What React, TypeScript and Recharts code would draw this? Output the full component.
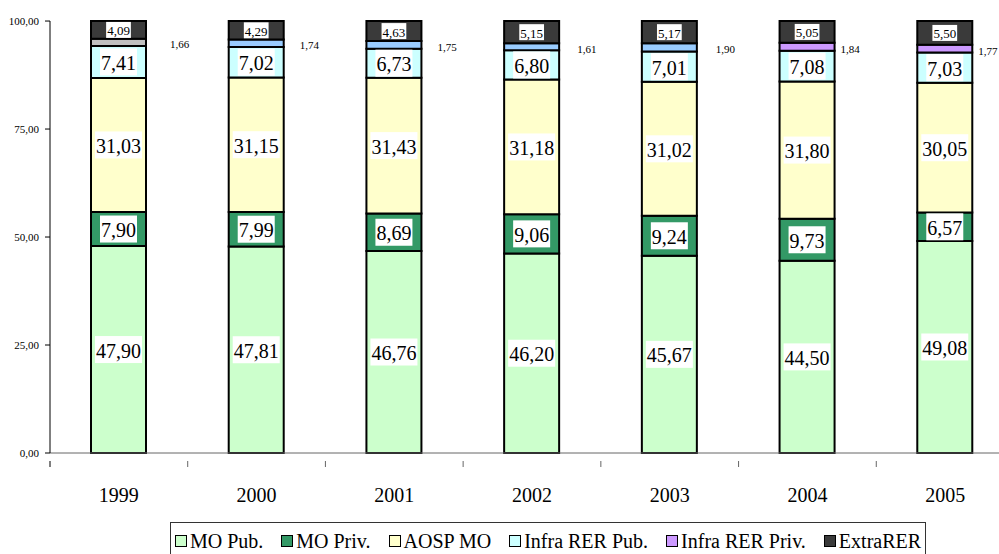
import { Bar, BarChart, Cell, LabelList, Legend, XAxis, YAxis } from "recharts";

const YEARS = ["1999", "2000", "2001", "2002", "2003", "2004", "2005"];
const MO_PUB = [47.9, 47.81, 46.76, 46.2, 45.67, 44.5, 49.08];
const MO_PRIV = [7.9, 7.99, 8.69, 9.06, 9.24, 9.73, 6.57];
const AOSP_MO = [31.03, 31.15, 31.43, 31.18, 31.02, 31.8, 30.05];
const INFRA_PUB = [7.41, 7.02, 6.73, 6.8, 7.01, 7.08, 7.03];
const INFRA_PRIV = [1.66, 1.74, 1.75, 1.61, 1.9, 1.84, 1.77];
const EXTRA_RER = [4.09, 4.29, 4.63, 5.15, 5.17, 5.05, 5.5];
const Y_TICKS = [0, 25, 50, 75, 100];

const SERIES = [
  { key: "moPub", name: "MO Pub.", color: "#CCFFCC" },
  { key: "moPriv", name: "MO Priv.", color: "#339966" },
  { key: "aosp", name: "AOSP MO", color: "#FFFFCC" },
  { key: "infraPub", name: "Infra RER Pub.", color: "#CCFFFF" },
  { key: "infraPriv", name: "Infra RER Priv.", color: "#CC99FF" },
  { key: "extra", name: "ExtraRER", color: "#3A3A3A" },
];
// the Infra RER Priv. slice changes colour from year to year in the source
const PRIV_COLORS = ["#C0C0C0", "#99CCFF", "#99CCFF", "#99CCFF", "#99CCFF", "#CC99FF", "#CC99FF"];
// hand-placed outside labels: gap from bar edge
const PRIV_DX = [24, 16, 16, 18, 19, 6, 6];

const FONT = "'Liberation Serif', 'Times New Roman', serif";
const PLOT_LEFT = 50;
const BAND = 137.7;

const data = YEARS.map((year, i) => ({
  year,
  moPub: MO_PUB[i],
  moPriv: MO_PRIV[i],
  aosp: AOSP_MO[i],
  infraPub: INFRA_PUB[i],
  infraPriv: INFRA_PRIV[i],
  extra: EXTRA_RER[i],
}));

const fmt = (v: number) => v.toFixed(2).replace(".", ",");

function boxLabel(size: number, boxH: number) {
  return (props: any) => {
    const vb = props.viewBox || {};
    const x = props.x ?? vb.x;
    const y = props.y ?? vb.y;
    const w = props.width ?? vb.width;
    const h = props.height ?? vb.height;
    const text = fmt(Number(props.value));
    const tw = (text.length - 1) * 0.5 * size + 0.25 * size + 2;
    const cx = x + w / 2;
    const cy = y + h / 2;
    return (
      <g>
        <rect x={cx - tw / 2} y={cy - boxH / 2} width={tw} height={boxH} fill="#fff" />
        <text
          x={cx}
          y={cy + 1}
          textAnchor="middle"
          dominantBaseline="central"
          fontFamily={FONT}
          fontSize={size}
          fill="#000"
        >
          {text}
        </text>
      </g>
    );
  };
}

function outsideLabel(props: any) {
  const vb = props.viewBox || {};
  const x = props.x ?? vb.x;
  const y = props.y ?? vb.y;
  const w = props.width ?? vb.width;
  const h = props.height ?? vb.height;
  const i = props.index ?? 0;
  return (
    <text
      x={x + w + PRIV_DX[i]}
      y={y + h / 2 + 2}
      dominantBaseline="central"
      fontFamily={FONT}
      fontSize={11}
      fill="#000"
    >
      {fmt(Number(props.value))}
    </text>
  );
}

function YearTick(props: any) {
  const { x, y, payload, index } = props;
  return (
    <g>
      {index === 0 && <line x1={x - BAND / 2} y1={y} x2={x - BAND / 2} y2={y + 6} stroke="#000" />}
      <line x1={x + BAND / 2} y1={y} x2={x + BAND / 2} y2={y + 6} stroke="#666" />
      <text
        x={x}
        y={y + 34}
        textAnchor="middle"
        dominantBaseline="central"
        fontFamily={FONT}
        fontSize={20}
        fill="#000"
      >
        {payload.value}
      </text>
    </g>
  );
}

function LegendBox() {
  return (
    <div
      style={{
        boxSizing: "border-box",
        width: 756,
        height: 40,
        border: "1px solid #333",
        background: "#fff",
        display: "flex",
        alignItems: "center",
        justifyContent: "center",
        gap: 18,
        fontFamily: FONT,
        fontSize: 20,
        color: "#000",
        paddingBottom: 2,
      }}
    >
      {SERIES.map((s) => (
        <span key={s.key} style={{ display: "flex", alignItems: "center", gap: 3 }}>
          <span
            style={{
              display: "inline-block",
              width: 10,
              height: 10,
              border: "1px solid #000",
              background: s.color,
            }}
          />
          {s.name}
        </span>
      ))}
    </div>
  );
}

export default function App() {
  return (
    <div
      style={{
        position: "fixed",
        left: 0,
        top: 0,
        width: 999,
        height: 554,
        overflow: "hidden",
        background: "#fff",
      }}
    >
      <BarChart
        width={1020}
        height={554}
        data={data}
        barSize={55}
        margin={{ top: 21, right: 6, bottom: 0, left: 0 }}
      >
        <XAxis
          dataKey="year"
          height={101}
          tick={<YearTick />}
          tickLine={false}
          axisLine={{ stroke: "#666" }}
          interval={0}
        />
        <YAxis
          width={PLOT_LEFT}
          domain={[0, 100]}
          ticks={Y_TICKS}
          tickFormatter={fmt}
          tick={{ fontFamily: FONT, fontSize: 11, fill: "#000" }}
          tickSize={5}
          tickMargin={6}
          axisLine={{ stroke: "#000" }}
          tickLine={{ stroke: "#000" }}
        />
        <Legend
          verticalAlign="middle"
          align="center"
          content={() => <LegendBox />}
          wrapperStyle={{ top: 522, left: 170, width: 756, height: 40 }}
        />
        {SERIES.map((s) => (
          <Bar
            key={s.key}
            dataKey={s.key}
            name={s.name}
            stackId="a"
            fill={s.color}
            stroke="#000"
            strokeWidth={2}
            isAnimationActive={false}
          >
            {s.key === "infraPriv" &&
              PRIV_COLORS.map((c, i) => <Cell key={i} fill={c} />)}
            {s.key === "infraPriv" ? (
              <LabelList dataKey={s.key} content={outsideLabel} />
            ) : s.key === "extra" ? (
              <LabelList dataKey={s.key} content={boxLabel(13, 16)} />
            ) : (
              <LabelList dataKey={s.key} content={boxLabel(20, 27)} />
            )}
          </Bar>
        ))}
      </BarChart>
    </div>
  );
}
